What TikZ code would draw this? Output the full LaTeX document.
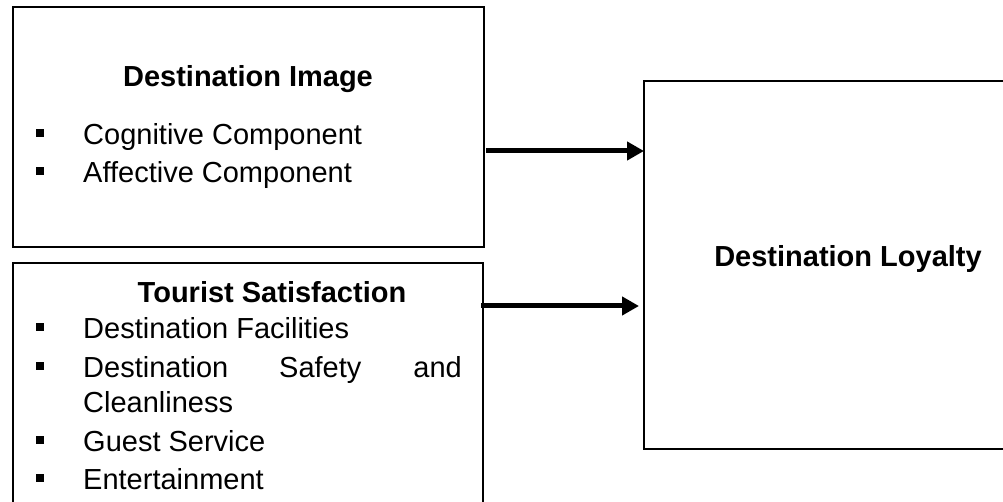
\documentclass[tikz,border=0pt]{standalone}
\usepackage{fontspec}
\setmainfont{Liberation Sans}
\usetikzlibrary{arrows.meta}
\begin{document}
\begin{tikzpicture}[x=1pt,y=-1pt,
  boxline/.style={draw=black,line width=2pt},
  txt/.style={inner sep=0pt,anchor=base west,font=\fontsize{29}{34}\selectfont},
  ttl/.style={inner sep=0pt,anchor=base,font=\fontsize{29}{34}\selectfont\bfseries},
  bul/.style={fill=black,minimum size=7.5pt,inner sep=0pt},
  conn/.style={line width=5pt,-{Triangle[length=17pt,width=18pt]}}]
\useasboundingbox (0,0) rectangle (1003,502);
\begin{scope}
\clip (0,0) rectangle (1003,502);
% boxes
\draw[boxline] (13,7) rectangle (484,247);
\draw[boxline] (13,520) -- (13,263) -- (483,263) -- (483,520);
\coordinate (b2e) at (481,306);
\draw[boxline] (644,81) rectangle (1010,449);
\coordinate (b3a) at (644,151);
\coordinate (b3b) at (639,306);
\coordinate (b1e) at (486,151);
\end{scope}
% box 1 text
\node[ttl] (t1) at (248,87) {Destination Image};
\node[bul] (p1) at (40,133) {};
\node[txt] (l1) at (83,145) {Cognitive Component};
\node[bul] (p2) at (40,171) {};
\node[txt] (l2) at (83,183) {Affective Component};
% box 2 text
\node[ttl] (t2) at (272,302) {Tourist Satisfaction};
\node[bul] (q1) at (40,327) {};
\node[txt] (m1) at (83,338) {Destination Facilities};
\node[bul] (q2) at (40,366) {};
\node[txt] (m2a) at (83,377) {Destination};
\node[txt] (m2b) at (279,377) {Safety};
\node[txt,anchor=base east] (m2c) at (462,377) {and};
\node[txt] (m3) at (83,412) {Cleanliness};
\node[bul] (q3) at (40,440) {};
\node[txt] (m4) at (83,451) {Guest Service};
\node[bul] (q4) at (40,478) {};
\node[txt] (m5) at (83,489) {Entertainment};
% box 3 text
\node[ttl] (t3) at (848,267) {Destination Loyalty};
% arrows
\draw[conn] (b1e) -- (b3a);
\draw[conn] (b2e) -- (b3b);
\end{tikzpicture}
\end{document}
